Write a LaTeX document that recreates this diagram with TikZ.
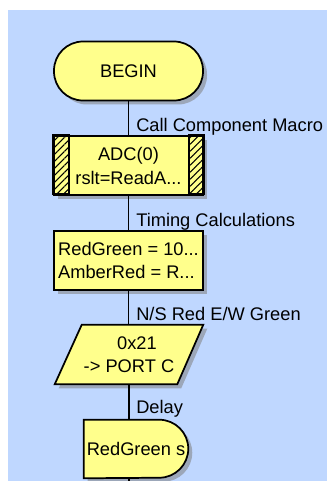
\documentclass[tikz,border=0pt]{standalone}
\usepackage{fontspec}
\setmainfont{Liberation Sans}
\usetikzlibrary{shadows,patterns.meta}
\definecolor{flowblue}{RGB}{191,215,255}
\definecolor{flowyellow}{RGB}{255,255,140}

\begin{document}
\begin{tikzpicture}[x=0.75pt,y=-0.75pt,font=\fontsize{13.7}{17}\selectfont]
  \tikzstyle{blk}=[draw=black,line width=1.3pt,fill=flowyellow,
    minimum width=111.75pt,minimum height=44.25pt,inner sep=0pt,
    drop shadow={shadow xshift=3pt,shadow yshift=-3pt,fill=black!50,opacity=0.55}]
  \tikzstyle{hatch}=[draw=black,line width=1.3pt,
    pattern={Lines[angle=45,distance=3.7pt,line width=0.8pt]}]
  \tikzstyle{ln}=[line width=1.3pt]
  \tikzstyle{lbl}=[anchor=base west,inner sep=0pt]

  \useasboundingbox (0,0) rectangle (327,481);
  \fill[flowblue] (8,10) rectangle (327,481);

  % -- BEGIN --
  \node[blk,rounded corners=21.75pt] (begin) at (128.5,71) {BEGIN};

  % -- Component macro --
  \node[blk,align=center,text depth=0pt] (adc) at (128.5,165.5)
    {ADC(0)\\[1pt]rslt=ReadA...};
  \draw[hatch] (adc.north west) rectangle ++(16,59);
  \draw[hatch] (adc.north east) rectangle ++(-15,59);

  % -- Calculation --
  \node[blk,align=left] (calc) at (128.5,260.5)
    {RedGreen = 10...\\AmberRed = R...};

  % -- Output --
  \node[minimum width=111pt,minimum height=44.25pt,inner sep=0pt,align=center]
    (port) at (129,354.5) {};
  \draw[line width=1.3pt,fill=flowyellow,
    drop shadow={shadow xshift=3pt,shadow yshift=-3pt,fill=black!50,opacity=0.55}]
    (port.south west) -- ([xshift=20.25pt]port.north west) -- (port.north east)
    -- ([xshift=-19.5pt]port.south east) -- cycle;
  \node[align=center] (porttxt) at (port) {\hspace*{12pt}0x21\\-> PORT C};

  % -- Delay --
  \node[minimum width=78pt,minimum height=43.5pt,inner sep=0pt]
    (delay) at (136,449) {};
  \draw[line width=1.3pt,fill=flowyellow,
    drop shadow={shadow xshift=3pt,shadow yshift=-3pt,fill=black!50,opacity=0.55}]
    (delay.north west) -- ([xshift=-21.75pt]delay.north east)
    arc (90:-90:21.75pt) -- (delay.south west) -- cycle;
  \node[inner sep=0pt] (delaytxt) at (delay) {RedGreen s};

  % -- connectors --
  \coordinate (exit) at (129,481);
  \draw[ln] (begin) -- (adc);
  \draw[ln] (adc) -- (calc);
  \draw[ln] (calc.south) -- (calc.south |- port.north);
  \draw[ln] (port.south) -- (port.south |- delay.north);
  \draw[ln] (port.south |- delay.south) -- (exit);

  % -- labels --
  \node[lbl] (l1) at (136,132) {Call Component Macro};
  \node[lbl] (l2) at (136,226) {Timing Calculations};
  \node[lbl] (l3) at (136,320) {N/S Red E/W Green};
  \node[lbl] (l4) at (136,413) {Delay};
\end{tikzpicture}
\end{document}
